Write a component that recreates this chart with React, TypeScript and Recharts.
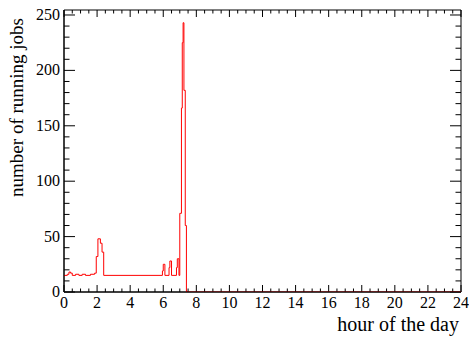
import { LineChart, Line, XAxis, YAxis, ReferenceLine, ReferenceArea, Label } from "recharts";

// ─── Data ─────────────────────────────────────────────────────────────────────

// hour where each step of the histogram starts
const HOURS = [
  0.0, 0.2, 0.3, 0.4, 0.5, 0.7, 0.9, 1.1, 1.3, 1.6, 1.85, 1.95, 2.05, 2.2, 2.3,
  2.4, 5.95, 6.0, 6.1, 6.35, 6.4, 6.5, 6.8, 6.85, 6.95, 7.0, 7.1, 7.15, 7.2,
  7.25, 7.33, 7.4, 24,
];

// number of running jobs from that hour on
const JOBS = [
  15, 16, 18, 17, 15, 16, 15, 16, 15, 16, 17, 32, 48, 44, 36,
  15, 19, 25, 15, 22, 28, 15, 22, 30, 15, 71, 166, 225, 243,
  182, 60, 0, 0,
];

const X_TICKS = [0, 2, 4, 6, 8, 10, 12, 14, 16, 18, 20, 22, 24];
const Y_TICKS = [0, 50, 100, 150, 200, 250];

// ─── Config ───────────────────────────────────────────────────────────────────

const WIDTH = 469;
const HEIGHT = 339;
const X_MAX = 24;
const Y_MAX = 254.5;
const PLOT_W = 397;
const PLOT_H = 282;
const FONT = "'Liberation Serif', 'Times New Roman', serif";
const TEXT_STYLE = { fontFamily: FONT, fill: "#000" };

const X_MINOR = Array.from({ length: 49 }, (_, i) => i * 0.5);
const Y_MINOR = Array.from({ length: 26 }, (_, i) => i * 10);

// tick lengths, px -> data units
const xLen = (px: number) => (px * X_MAX) / PLOT_W;
const yLen = (px: number) => (px * Y_MAX) / PLOT_H;

const data = HOURS.map((h, i) => ({ hour: h, jobs: JOBS[i] }));

// ─── Tick labels ──────────────────────────────────────────────────────────────

const renderXTick = ({ x, y, payload }: any) => (
  <text
    key={`xl${payload.value}`}
    x={x}
    y={y + 12}
    textAnchor="middle"
    style={{ ...TEXT_STYLE, fontSize: 16 }}
  >
    {payload.value}
  </text>
);

const renderYTick = ({ x, y, payload }: any) => (
  <text
    key={`yl${payload.value}`}
    x={x}
    y={y + 5}
    textAnchor="end"
    style={{ ...TEXT_STYLE, fontSize: 16 }}
  >
    {payload.value}
  </text>
);

// ─── Component ────────────────────────────────────────────────────────────────

export default function App() {
  return (
    <div style={{ position: "absolute", left: 0, top: 0, background: "#fff", fontFamily: FONT }}>
      <LineChart
        width={WIDTH}
        height={HEIGHT}
        data={data}
        margin={{ top: 10, right: 8, left: 0, bottom: 0 }}
      >
        {/* frame */}
        <ReferenceArea
          x1={0}
          x2={X_MAX}
          y1={0}
          y2={Y_MAX}
          fill="none"
          fillOpacity={0}
          stroke="#000"
          strokeWidth={1}
        />

        {/* ticks pointing inward, on all four sides */}
        {X_MINOR.map((t) => {
          const len = yLen(t % 2 === 0 ? 7 : 3.5);
          return [
            <ReferenceLine
              key={`xb${t}`}
              segment={[{ x: t, y: 0 }, { x: t, y: len }]}
              stroke="#000"
            />,
            <ReferenceLine
              key={`xt${t}`}
              segment={[{ x: t, y: Y_MAX }, { x: t, y: Y_MAX - len }]}
              stroke="#000"
            />,
          ];
        })}
        {Y_MINOR.map((v) => {
          const len = xLen(v % 50 === 0 ? 11 : 5.5);
          return [
            <ReferenceLine
              key={`yl${v}`}
              segment={[{ x: 0, y: v }, { x: len, y: v }]}
              stroke="#000"
            />,
            <ReferenceLine
              key={`yr${v}`}
              segment={[{ x: X_MAX, y: v }, { x: X_MAX - len, y: v }]}
              stroke="#000"
            />,
          ];
        })}

        <XAxis
          type="number"
          dataKey="hour"
          domain={[0, X_MAX]}
          ticks={X_TICKS}
          interval={0}
          allowDataOverflow
          height={47}
          tickLine={false}
          tickSize={0}
          tickMargin={4}
          axisLine={{ stroke: "#000" }}
          tick={renderXTick}
        >
          <Label
            content={({ viewBox }: any) => (
              <text
                x={(viewBox?.x ?? 64) + (viewBox?.width ?? PLOT_W) - 2}
                y={(viewBox?.y ?? 292) + 39}
                textAnchor="end"
                style={{ ...TEXT_STYLE, fontSize: 20 }}
              >
                hour of the day
              </text>
            )}
          />
        </XAxis>
        <YAxis
          type="number"
          domain={[0, Y_MAX]}
          ticks={Y_TICKS}
          interval={0}
          allowDataOverflow
          width={64}
          tickLine={false}
          tickSize={0}
          tickMargin={4}
          axisLine={{ stroke: "#000" }}
          tick={renderYTick}
        >
          <Label
            content={({ viewBox }: any) => {
              const x = (viewBox?.x ?? 0) + 23;
              const y = (viewBox?.y ?? 10) + 8;
              return (
                <text
                  x={x}
                  y={y}
                  transform={`rotate(-90, ${x}, ${y})`}
                  textAnchor="end"
                  style={{ ...TEXT_STYLE, fontSize: 19 }}
                >
                  number of running jobs
                </text>
              );
            }}
          />
        </YAxis>

        <Line
          type="stepAfter"
          dataKey="jobs"
          stroke="#ff0000"
          strokeWidth={1}
          dot={false}
          activeDot={false}
          isAnimationActive={false}
        />
      </LineChart>
    </div>
  );
}
